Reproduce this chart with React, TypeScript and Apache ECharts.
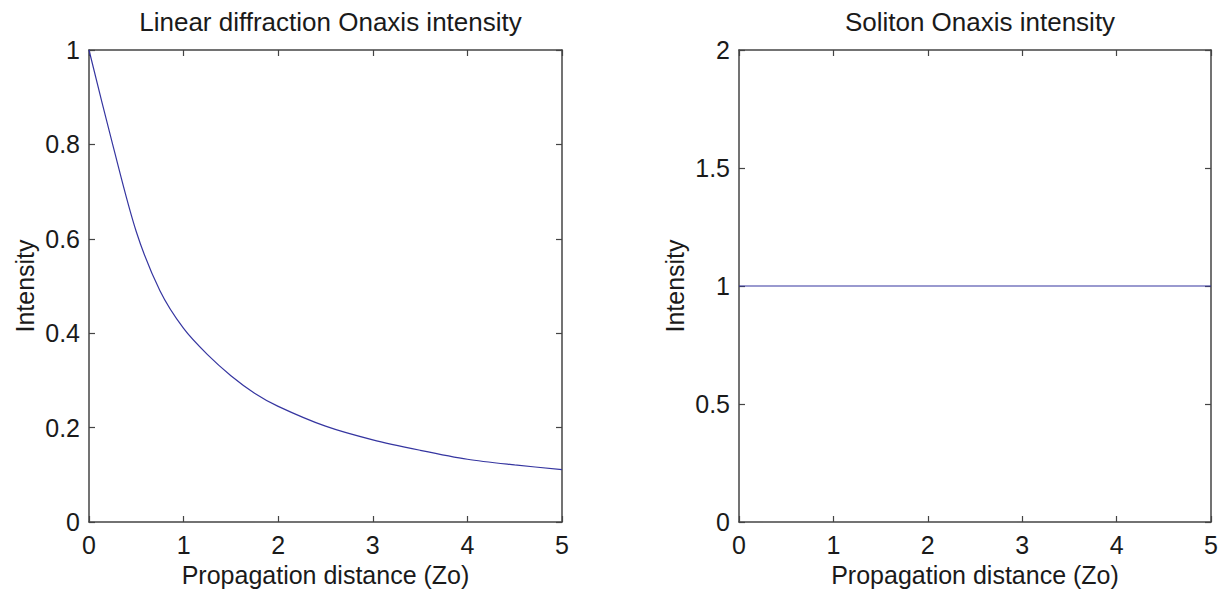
import React, { useEffect, useRef } from "react";
import * as echarts from "echarts";

// Propagation distance in units of Zo
const distance = [0, 0.25, 0.5, 0.75, 1.0, 1.25, 1.5, 1.75, 2.0, 2.5, 3.0, 3.5, 4.0, 4.5, 5.0];
// On-axis intensity for linear diffraction
const linearIntensity = [1.0, 0.8, 0.615, 0.49, 0.41, 0.355, 0.31, 0.273, 0.245, 0.203, 0.174, 0.152, 0.133, 0.121, 0.111];
// On-axis intensity for the soliton
const solitonDistance = [0, 5];
const solitonIntensity = [1, 1];

const titles = ["Linear diffraction Onaxis intensity", "Soliton Onaxis intensity"];
const xName = "Propagation distance (Zo)";
const yName = "Intensity";

const FONT = "'Liberation Sans', Arial, Helvetica, sans-serif";
const AXIS_COLOR = "#444";
const TEXT_COLOR = "#1a1a1a";
const LINE_COLOR = "#3535a0";

const grids = [
  { left: 89, top: 50, width: 473, height: 472 },
  { left: 739, top: 50, width: 472, height: 472 },
];
const yRanges = [
  { max: 1, interval: 0.2 },
  { max: 2, interval: 0.5 },
];

function axisBase() {
  return {
    axisLine: { show: true, onZero: false, lineStyle: { color: AXIS_COLOR, width: 1.5 } },
    axisTick: { show: true, inside: true, length: 6, lineStyle: { color: AXIS_COLOR, width: 1.2 } },
    splitLine: { show: false },
  };
}

export default function App() {
  const ref = useRef<HTMLDivElement>(null);

  useEffect(() => {
    if (!ref.current) return;
    const chart = echarts.init(ref.current, undefined, { renderer: "svg" });

    const xAxes: any[] = [];
    const yAxes: any[] = [];
    grids.forEach((_, i) => {
      xAxes.push({
        ...axisBase(),
        type: "value",
        gridIndex: i,
        position: "bottom",
        min: 0,
        max: 5,
        interval: 1,
        name: xName,
        nameLocation: "middle",
        nameGap: 40,
        nameTextStyle: { fontFamily: FONT, fontSize: 25, color: TEXT_COLOR },
        axisLabel: { fontFamily: FONT, fontSize: 25, color: TEXT_COLOR, margin: 10 },
      });
      xAxes.push({
        ...axisBase(),
        type: "value",
        gridIndex: i,
        position: "top",
        min: 0,
        max: 5,
        interval: 1,
        axisLabel: { show: false },
      });
      yAxes.push({
        ...axisBase(),
        type: "value",
        gridIndex: i,
        position: "left",
        min: 0,
        max: yRanges[i].max,
        interval: yRanges[i].interval,
        name: yName,
        nameLocation: "middle",
        nameGap: 52,
        nameTextStyle: { fontFamily: FONT, fontSize: 25, color: TEXT_COLOR },
        axisLabel: { fontFamily: FONT, fontSize: 25, color: TEXT_COLOR, margin: 9 },
      });
      yAxes.push({
        ...axisBase(),
        type: "value",
        gridIndex: i,
        position: "right",
        min: 0,
        max: yRanges[i].max,
        interval: yRanges[i].interval,
        axisLabel: { show: false },
      });
    });

    chart.setOption({
      animation: false,
      backgroundColor: "#ffffff",
      title: titles.map((t, i) => ({
        text: t,
        left: grids[i].left + grids[i].width / 2,
        top: 4,
        textAlign: "center",
        textStyle: { fontFamily: FONT, fontSize: 26, fontWeight: "normal", color: TEXT_COLOR },
      })),
      grid: grids,
      xAxis: xAxes,
      yAxis: yAxes,
      series: [
        {
          type: "line",
          xAxisIndex: 0,
          yAxisIndex: 0,
          data: distance.map((d, i) => [d, linearIntensity[i]]),
          showSymbol: false,
          smooth: 0.3,
          lineStyle: { color: LINE_COLOR, width: 1.2 },
        },
        {
          type: "line",
          xAxisIndex: 2,
          yAxisIndex: 2,
          data: solitonDistance.map((d, i) => [d, solitonIntensity[i]]),
          showSymbol: false,
          lineStyle: { color: LINE_COLOR, width: 1.2 },
        },
      ],
    });

    return () => chart.dispose();
  }, []);

  return (
    <div
      ref={ref}
      style={{ position: "fixed", left: 0, top: 0, width: 1225, height: 594, background: "#fff" }}
    />
  );
}
